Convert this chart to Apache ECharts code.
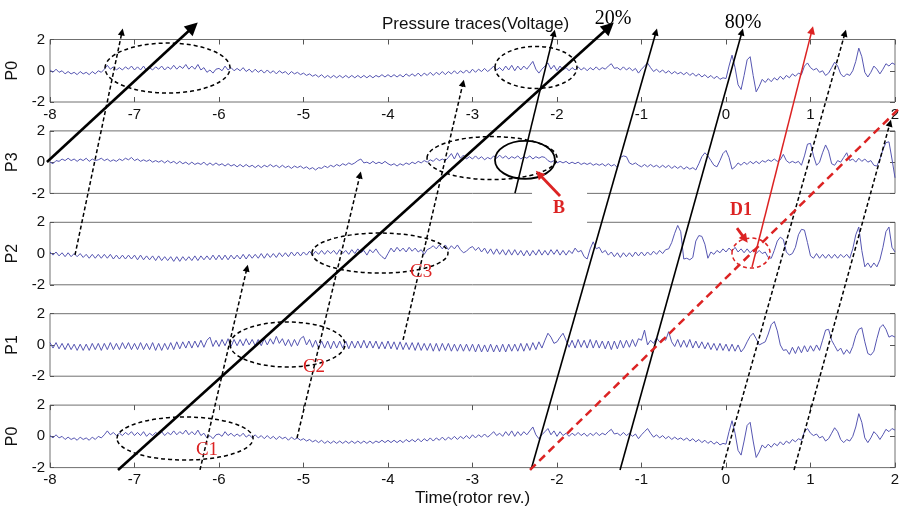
<!DOCTYPE html>
<html><head><meta charset="utf-8">
<script src="https://cdn.jsdelivr.net/npm/echarts/dist/echarts.min.js"></script>
<style>html,body{margin:0;padding:0;background:#fff}#c{width:901px;height:512px}</style>
</head><body><div id="c"></div>
<script>
// ---------------- data ----------------
const panelNames = ['P0', 'P3', 'P2', 'P1', 'P0'];
const timeStart = -8;          // rotor revs at first sample
const samplesPerRev = 28;      // sampling of the hand-read traces

const p0 = [
0.05,-0.1,0.1,-0.1,0,-0.2,-0.05,-0.2,-0.1,-0.25,-0.05,-0.2,-0.1,-0.25,-0.05,-0.2,0,-0.1,0.1,0.35,0.1,0.25,0.05,0.2,0.05,0.25,0.1,0.3,
0.05,0.25,0.05,0.3,0,0.2,0.05,0.25,0.1,0.3,0.05,0.25,0.1,0.35,0.1,0.3,0.15,0.4,0.1,0.3,0.1,0.4,0.05,0.2,-0.1,0.05,-0.15,0.1,
0.15,0,0.3,0.05,0.2,0,0.15,0,0.2,-0.05,0.1,-0.1,0.1,-0.1,0.05,-0.15,0.05,-0.15,0,-0.2,0,-0.15,-0.05,-0.25,-0.05,-0.2,-0.1,-0.25,
-0.15,-0.3,-0.2,-0.35,-0.25,-0.4,-0.25,-0.45,-0.3,-0.45,-0.3,-0.45,-0.3,-0.45,-0.3,-0.45,-0.3,-0.45,-0.3,-0.45,-0.3,-0.45,-0.3,-0.45,-0.3,-0.4,-0.25,-0.4,
-0.25,-0.4,-0.25,-0.4,-0.25,-0.4,-0.2,-0.35,-0.2,-0.35,-0.15,-0.35,-0.15,-0.3,-0.1,-0.3,-0.1,-0.25,-0.05,-0.25,-0.05,-0.2,0,-0.2,0,-0.15,0.05,-0.15,
0.1,-0.1,0.1,-0.05,0.15,-0.05,0.1,0.3,0.05,0.2,0,0.3,0.05,0.35,0,0.3,0.05,0.3,0.1,0.35,0.6,0.1,-0.15,0.1,0.3,0.5,0.1,0.35,
0,0.3,0.05,0.2,0,0.2,0.05,0.25,0.05,0.2,0,0.2,0.05,0.25,0.05,0.2,0.1,0.3,0.45,0.15,0.2,0.05,0.25,0.05,0.2,0,0.15,-0.15,
0.1,0.3,0.5,0.2,-0.05,0.1,-0.1,0.05,-0.15,0,-0.2,-0.05,-0.2,-0.1,-0.25,-0.1,-0.3,-0.15,-0.35,-0.2,-0.4,-0.25,-0.45,-0.3,-0.5,-0.35,-0.55,-0.45,
-0.5,0.3,1.0,0.2,-0.9,-1.2,-0.3,0.7,0.9,-0.3,-1.35,-1.0,-0.55,-0.75,-0.5,-0.7,-0.45,-0.6,-0.35,-0.55,-0.3,-0.45,-0.2,-0.35,-0.15,-0.25,0.3,0.5,
0.2,0.05,0.15,-0.1,0,-0.3,-0.15,0.2,0.55,0.3,-0.2,-0.4,-0.2,-0.3,0,0.6,1.45,0.9,-0.1,-0.4,-0.1,0.3,0.1,-0.2,0.1,0.45,0.3,0.5,0.4
];
const p3 = [
0,-0.1,0.1,0.05,0.2,0.1,0.25,0.1,0.2,0.05,0.2,0.1,0.25,0.05,0.2,0.1,0.15,0.25,0.1,0.2,0.05,0.15,0.05,0.2,0.1,0.25,0.15,0.3,
0.1,0.2,0.05,0.15,0.05,0.15,0,0.1,0,0.1,-0.05,0.1,-0.05,0.05,-0.1,0.05,-0.1,0,-0.15,0,-0.15,-0.05,-0.15,0,-0.2,-0.05,-0.2,-0.05,
-0.2,-0.1,-0.25,-0.1,-0.25,-0.15,-0.3,-0.15,-0.3,-0.15,-0.3,-0.2,-0.35,-0.2,-0.35,-0.2,-0.3,-0.15,-0.3,-0.2,-0.35,-0.2,-0.35,-0.25,-0.4,-0.25,-0.35,-0.25,
-0.4,-0.3,-0.45,-0.35,-0.5,-0.35,-0.4,-0.25,-0.35,-0.2,-0.3,-0.15,-0.25,-0.1,-0.2,-0.05,-0.15,-0.05,0.1,0.2,-0.05,0,-0.1,0.05,-0.1,0,-0.1,0.05,
-0.1,-0.2,-0.1,-0.25,-0.1,-0.2,-0.05,-0.15,0,-0.1,0.05,-0.05,0.1,0,0.15,0.05,0.25,0.1,0.2,0.1,0.3,0.55,0.2,0.6,0.25,0.45,0.2,0.35,
0.2,0.4,0.2,0.35,0.15,0.3,0.2,0.4,0.25,0.45,0.25,0.4,0.2,0.35,0.25,0.4,0.2,0.35,0.25,0.4,0.2,0.35,0.25,0.35,0.3,0.1,0,0.1,
-0.05,0.05,-0.05,0.05,-0.1,0,-0.1,0,-0.15,-0.05,-0.15,-0.05,-0.2,-0.1,-0.2,-0.1,-0.25,-0.1,-0.25,-0.15,-0.35,0.3,0.4,0.35,-0.05,-0.15,-0.05,-0.2,
-0.3,-0.15,-0.3,-0.15,-0.3,-0.2,-0.35,-0.2,-0.35,-0.2,-0.4,-0.25,-0.4,-0.25,-0.45,-0.3,-0.45,-0.35,-0.5,-0.1,0.35,0.6,0.4,0.1,-0.2,-0.3,0.1,0.55,
0.75,0.3,-0.45,-0.3,-0.05,-0.2,0,-0.15,0.05,-0.1,0.05,-0.1,0.1,0,0.15,0.05,0.2,0.05,0.15,0.5,0.1,-0.05,0.05,-0.05,0.05,-0.2,0.4,1.15,
1.2,0.4,-0.2,0,0.6,1.1,0.7,-0.1,-0.2,0.1,0,0.3,0.6,0.1,0.2,0,0.25,0.05,0.2,0,0.1,-0.2,-0.25,0.2,0.8,1.25,1.3,0.2,-1.0
];
const p2 = [
0.1,-0.1,0.1,-0.15,0.05,-0.2,0.05,-0.2,0,-0.2,0,-0.25,-0.05,-0.3,-0.05,-0.3,-0.05,-0.3,-0.05,-0.3,-0.05,-0.35,-0.1,-0.35,-0.1,-0.35,-0.1,-0.35,
-0.1,-0.4,-0.1,-0.4,-0.15,-0.4,-0.15,-0.45,-0.15,-0.45,-0.2,-0.45,-0.2,-0.5,-0.2,-0.5,-0.2,-0.45,-0.2,-0.45,-0.15,-0.45,-0.15,-0.4,-0.15,-0.4,-0.1,-0.4,
-0.1,-0.4,-0.1,-0.4,-0.1,-0.35,-0.1,-0.35,-0.05,-0.35,-0.05,-0.3,-0.05,-0.3,0,-0.3,0,-0.25,0,-0.25,0.05,-0.2,0.05,-0.2,0.1,-0.15,0.1,-0.15,
0.1,-0.1,0.15,-0.1,0.15,-0.05,0.2,-0.05,0.2,0,0.2,-0.05,0.25,0,0.2,-0.05,0.25,0,0.3,0.05,0.2,-0.1,0.25,0.05,0.3,0,-0.2,-0.35,
0,0.35,0.1,0.4,0.15,0.35,0.1,0.4,0.15,0.35,0.1,0.25,-0.05,0.25,0.35,0.5,0.3,0.55,0.3,0.55,0.25,0.5,0.3,0.55,0.25,0.05,0.15,0.35,
0.45,0.2,0.4,0.1,0.35,0,0.3,-0.05,0.3,-0.05,0.25,-0.1,0.25,-0.1,0.25,-0.1,0.2,-0.15,0.2,-0.15,0.2,-0.1,0.25,-0.1,0.2,-0.1,0.25,-0.05,
0.25,-0.1,0.2,-0.1,0.2,0,0.35,0.1,0.2,-0.2,-0.35,0.3,0.75,0.3,0.4,0.05,0.2,-0.1,0.1,-0.2,0.05,-0.25,0.05,-0.2,0.05,-0.2,0.1,-0.15,
0.1,-0.15,0.1,-0.1,0.15,-0.05,0.2,0,0.25,0.3,0.7,1.3,1.8,1.4,-0.35,-0.3,-0.4,-0.25,0.8,1.15,1.1,0.6,-0.3,0.1,-0.05,0.2,0.05,0.3,
0.1,0.35,0.15,0.4,0.1,0.3,0.05,0.3,0.05,0.25,0,0.2,0,0.1,-0.25,-0.3,0.2,0.8,1.05,0.9,0.1,-0.1,0,0.4,1.2,1.55,1.5,0.7,
-0.15,-0.3,0,-0.3,-0.05,-0.3,-0.05,-0.3,-0.05,-0.3,-0.05,-0.25,-0.05,-0.3,0.3,1.2,1.7,0.2,-0.85,-0.6,-0.9,-0.6,-0.85,-0.4,0.4,1.4,1.7,0.4,0.1
];
const p1 = [
0.15,-0.2,0.15,-0.25,0.1,-0.3,0.1,-0.3,0.05,-0.35,0.05,-0.35,0.05,-0.35,0.1,-0.3,0.1,-0.35,0.1,-0.3,0.15,-0.3,0.1,-0.3,0.15,-0.25,0.15,-0.3,
0.1,-0.3,0.15,-0.3,0.1,-0.3,0.15,-0.35,0.1,-0.35,0.1,-0.3,0.15,-0.3,0.2,-0.25,0.2,-0.2,0.25,-0.2,0.25,-0.15,0.3,-0.15,0.3,0.5,-0.1,0.3,
-0.1,0.35,-0.05,0.4,-0.1,0.35,-0.05,0.35,-0.05,0.4,0,0.35,-0.05,0.35,-0.05,0.4,0,0.4,0.05,0.55,0.1,0.4,-0.05,0.35,-0.1,0.35,-0.05,0.4,
0.55,0,0.35,-0.15,0.3,-0.2,0.25,-0.2,0.25,-0.25,0.25,-0.2,0.25,-0.2,0.25,-0.25,0.25,-0.2,0.25,-0.2,0.3,-0.2,0.25,-0.2,0.25,-0.25,0.2,-0.25,
0.25,-0.25,0.2,-0.3,0.2,-0.3,0.15,-0.3,0.15,-0.35,0.15,-0.35,0.1,-0.35,0.1,-0.4,0.1,-0.4,0.1,-0.35,0.1,-0.4,0.05,-0.4,0.05,-0.4,0.05,-0.4,
0.05,-0.45,0.05,-0.45,0,-0.45,0.05,-0.45,0,-0.45,0.05,-0.45,0.05,-0.4,0.05,-0.4,0.1,-0.4,0.1,-0.35,0.15,-0.3,0.2,-0.2,0.3,0.75,0.5,0.1,
0.2,0.5,0.75,0.3,-0.15,0.3,-0.2,0.35,-0.15,0.3,-0.2,0.35,-0.2,0.3,-0.2,0.25,-0.25,0.25,-0.3,0.25,-0.25,0.3,-0.2,0.3,-0.15,0.35,-0.1,0.4,
0.3,0.95,0,0.3,0.1,0.45,0.2,0.4,0.3,0.85,0.2,-0.1,0.35,-0.15,0.3,-0.15,0.35,-0.2,0.25,-0.2,0.2,-0.25,0.15,-0.3,0.1,-0.35,0.1,-0.35,
0.05,-0.4,0.05,-0.4,0,-0.45,-0.2,0.2,0.55,0.75,0.4,0,0.1,0.2,0.7,1.3,1.5,0.9,0,-0.35,-0.3,-0.6,-0.15,-0.55,-0.1,-0.5,-0.05,-0.45,
-0.05,-0.4,0,-0.35,0.3,0.95,1.0,0.3,-0.05,-0.4,-0.2,-0.6,-0.3,-0.55,-0.1,0.6,1.0,1.1,0.2,-0.55,-0.65,-0.4,0.4,1.1,1.3,1.0,0.5,0.6,0.5
];
const panelTraces = [p0, p3, p2, p1, p0];

// Annotations, in [rotor rev, stacked volts] (panel k from the bottom is centred at k*5.85 V)
const arrowsThick  = [[[-8.036, 17.56], [-6.308, 26.2]], [[-7.195, -2.15], [-1.385, 26.2]]];
const arrowsSolid  = [[[-2.497, 15.57], [-2.036, 25.81]], [[-2.308, -2.15], [-0.828, 25.88]], [[-1.254, -2.15], [0.189, 25.88]]];
const arrowsDashed = [[[-7.704, 11.61], [-7.148, 25.88]], [[-6.225, -2.15], [-5.669, 10.77]], [[-5.077, -0.106], [-4.331, 16.73]],
                      [[-3.822, 6.17], [-3.112, 22.61]], [[-0.047, -2.15], [1.408, 25.81]], [[0.805, -2.15], [1.941, 20.05]]];
const arrowRed     = [[[0.308, 10.84], [1.018, 26.0]]];
const redDashed    = [[[-2.32, -2.15], [2.071, 21.1]]];
const redPointers  = [[[-1.964, 15.38], [-2.213, 16.79]], [[0.130, 13.33], [0.225, 12.63]]];
const ellipsesDashed = [[-6.609, 23.57, 0.74, 1.6], [-2.249, 23.61, 0.485, 1.344], [-2.769, 17.81, 0.769, 1.376],
                        [-4.095, 11.73, 0.805, 1.28], [-5.189, 5.88, 0.68, 1.44], [-6.402, -0.138, 0.805, 1.376]];
const ellipseSolid = [[-2.379, 17.69, 0.355, 1.216]];
const ellipseRed   = [[0.296, 11.73, 0.225, 0.96]];
const blackNotes = ['20%', '80%'];
const blackNotePos = [[-1.337, 26.71], [0.201, 26.45]];
const redNotes = ['C1', 'C2', 'C3'];
const redNotePos = [[-6.142, -0.87], [-4.876, 4.44], [-3.609, 10.52]];
const boldNotes = ['D1'];
const boldNotePos = [[0.178, 14.49]];
const boxNotes = ['B'];
const boxNotePos = [[-1.97, 14.61]];

// ---------------- layout ----------------
const L = 50, R = 6, TOP0 = 39.5, PITCH = 91.4, H = 62.5;
const SANS = '"Liberation Sans", Arial, sans-serif';
const SERIF = '"Liberation Serif", "Times New Roman", serif';
const traceColor = '#5656b2';
const boxColor = '#707070';
const red = '#dc2323';

const grids = [], xAxes = [], yAxes = [], series = [];
for (let i = 0; i < 5; i++) {
  grids.push({left: L, right: R, top: TOP0 + PITCH * i, height: H, show: true, borderColor: boxColor, borderWidth: 1, backgroundColor: 'transparent', outerBoundsMode: 'none', containLabel: false});
}
grids.push({left: L, right: R, top: TOP0, bottom: 512 - (TOP0 + PITCH * 4 + H), show: false, outerBoundsMode: 'none', containLabel: false});

const noLine = {show: false, onZero: false};
const showX = [true, false, false, false, true];
for (let i = 0; i < 5; i++) {
  xAxes.push({
    type: 'value', gridIndex: i, min: -8, max: 2, interval: 1, position: 'bottom',
    axisLine: noLine, splitLine: {show: false},
    axisTick: {show: showX[i], inside: true, length: 5, lineStyle: {color: '#555'}},
    axisLabel: {show: showX[i], fontSize: 15, color: '#111', fontFamily: SANS, margin: 5},
    name: i === 4 ? 'Time(rotor rev.)' : '', nameLocation: 'middle', nameGap: 22,
    nameTextStyle: {fontSize: 17, color: '#111', fontFamily: SANS}
  });
}
[0, 4].forEach(g => xAxes.push({
  type: 'value', gridIndex: g, min: -8, max: 2, interval: 1, position: 'top',
  axisLine: noLine, splitLine: {show: false}, axisLabel: {show: false},
  axisTick: {show: true, inside: true, length: 5, lineStyle: {color: '#555'}}
}));
xAxes.push({type: 'value', gridIndex: 5, min: -8, max: 2, show: false, axisLine: noLine});

for (let i = 0; i < 5; i++) {
  yAxes.push({
    type: 'value', gridIndex: i, min: -2, max: 2, interval: 2, position: 'left',
    axisLine: noLine, splitLine: {show: false},
    axisTick: {show: true, inside: true, length: 4, lineStyle: {color: '#555'}},
    axisLabel: {fontSize: 15, color: '#111', fontFamily: SANS, margin: 5},
    name: panelNames[i], nameLocation: 'middle', nameGap: 28, nameRotate: 90,
    nameTextStyle: {fontSize: 16, color: '#111', fontFamily: SANS}
  });
}
for (let i = 0; i < 5; i++) {
  yAxes.push({
    type: 'value', gridIndex: i, min: -2, max: 2, interval: 2, position: 'right',
    axisLine: noLine, splitLine: {show: false}, axisLabel: {show: false},
    axisTick: {show: true, inside: true, length: 5, lineStyle: {color: '#555'}}
  });
}
yAxes.push({type: 'value', gridIndex: 5, min: -2, max: 2 + 4 * PITCH / (H / 4), show: false, axisLine: noLine});

for (let i = 0; i < 5; i++) {
  series.push({
    type: 'line', xAxisIndex: i, yAxisIndex: i, silent: true, animation: false,
    symbol: 'none', showSymbol: false, z: 2,
    lineStyle: {color: traceColor, width: 1},
    data: panelTraces[i].map((v, k) => [timeStart + k / samplesPerRev, v])
  });
}

function linesSeries(list, style, sym, symSize, z) {
  return {
    type: 'lines', coordinateSystem: 'cartesian2d', xAxisIndex: 7, yAxisIndex: 10,
    silent: true, animation: false, clip: false, polyline: false, z: z || 5,
    symbol: ['none', sym], symbolSize: symSize,
    lineStyle: Object.assign({opacity: 1, curveness: 0}, style),
    data: list.map(c => ({coords: c}))
  };
}
series.push(linesSeries(arrowsThick, {color: '#000', width: 2.6}, 'triangle', 13));
series.push(linesSeries(arrowsSolid, {color: '#000', width: 1.6}, 'triangle', 7));
series.push(linesSeries(arrowsDashed, {color: '#000', width: 1.5, type: [4, 2.5]}, 'triangle', 7));
series.push(linesSeries(arrowRed, {color: red, width: 1.5}, 'triangle', 8));
series.push(linesSeries(redDashed, {color: red, width: 2.5, type: [8, 5]}, 'none', 1));
series.push(linesSeries(redPointers, {color: red, width: 2.8}, 'triangle', 9, 7));

function ellipsePath(cx, cy, rx, ry) {
  const k = 0.5523;
  return ['M', cx - rx, cy,
    'C', cx - rx, cy - k * ry, cx - k * rx, cy - ry, cx, cy - ry,
    'C', cx + k * rx, cy - ry, cx + rx, cy - k * ry, cx + rx, cy,
    'C', cx + rx, cy + k * ry, cx + k * rx, cy + ry, cx, cy + ry,
    'C', cx - k * rx, cy + ry, cx - rx, cy + k * ry, cx - rx, cy, 'Z'].join(' ');
}
function ellipseSeries(list, style) {
  return {
    type: 'custom', coordinateSystem: 'cartesian2d', xAxisIndex: 7, yAxisIndex: 10,
    silent: true, animation: false, clip: false, z: 4,
    data: list,
    renderItem: (params, api) => {
      const c = api.coord([api.value(0), api.value(1)]);
      const s = api.size([api.value(2), api.value(3)]);
      return {type: 'path', shape: {pathData: ellipsePath(c[0], c[1], s[0], s[1])},
        style: Object.assign({fill: 'none'}, style)};
    }
  };
}
series.push(ellipseSeries(ellipsesDashed, {stroke: '#000', lineWidth: 1.5, lineDash: [4, 3]}));
series.push(ellipseSeries(ellipseSolid, {stroke: '#000', lineWidth: 1.8}));
series.push(ellipseSeries(ellipseRed, {stroke: red, lineWidth: 1.5, lineDash: [4, 3]}));

function textSeries(texts, pos, style, z) {
  return {
    type: 'custom', coordinateSystem: 'cartesian2d', xAxisIndex: 7, yAxisIndex: 10,
    silent: true, animation: false, clip: false, z: z || 6,
    data: pos,
    renderItem: (params, api) => {
      const c = api.coord([api.value(0), api.value(1)]);
      return {type: 'text', x: c[0], y: c[1],
        style: Object.assign({text: texts[params.dataIndex], align: 'center', verticalAlign: 'middle'}, style)};
    }
  };
}
series.push(textSeries(blackNotes, blackNotePos, {fill: '#000', font: '20px ' + SERIF}));
series.push(textSeries(redNotes, redNotePos, {fill: red, font: '19px ' + SERIF}));
series.push(textSeries(boldNotes, boldNotePos, {fill: red, font: 'bold 18px ' + SERIF}));
series.push(textSeries(boxNotes, boxNotePos, {fill: red, font: 'bold 18px ' + SERIF, lineHeight: 18,
  backgroundColor: '#fff', padding: [13, 22, 7, 21]}, 3));

const chart = echarts.init(document.getElementById('c'), null, {renderer: 'canvas'});
chart.setOption({
  animation: false,
  backgroundColor: '#fff',
  title: {text: 'Pressure traces(Voltage)', left: 377, top: 11,
    textStyle: {fontSize: 17, fontWeight: 'normal', color: '#111', fontFamily: SANS}},
  grid: grids, xAxis: xAxes, yAxis: yAxes, series: series
});
</script></body></html>
